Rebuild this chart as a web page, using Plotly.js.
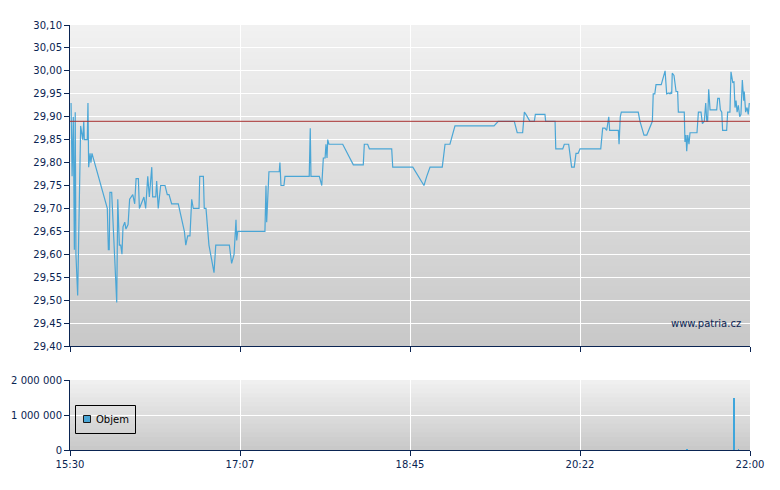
<!DOCTYPE html>
<html>
<head>
<meta charset="utf-8">
<script src="https://cdn.plot.ly/plotly-3.0.1.min.js"></script>
<style>html,body{margin:0;padding:0;background:#fff}#chart{width:780px;height:490px}</style>
</head>
<body>
<div id="chart"></div>
<script>
// ---- data ----
const tickMinutes = [0, 97.5, 195, 292.5, 390];
const tickLabels = ['15:30', '17:07', '18:45', '20:22', '22:00'];
const prevClose = 29.89;

const minutesAfterOpen = [
  0.6, 1.2, 1.9, 2.5, 3.0, 3.4, 4.4, 6.1, 7.3, 7.9, 8.2, 9.9, 10.3, 10.7, 11.5, 12.0, 12.6,
  20.3, 21.4, 22.0, 22.5, 22.9, 23.9, 26.8, 27.4, 28.3, 29.1, 29.8, 30.4, 31.4, 32.1, 33.3,
  34.2, 36.0, 37.1, 37.9, 39.2, 39.8, 42.4, 43.4, 44.6, 45.5, 46.9, 47.4, 49.2, 49.7, 50.6,
  52.0, 54.5, 55.8, 56.8, 58.3, 62.1, 65.6, 66.4, 67.5, 68.8, 69.8, 70.7, 74.0, 74.4, 76.5,
  77.0, 78.0, 79.7, 82.6, 83.6, 91.4, 92.7, 94.1, 95.2, 95.6, 96.2,
  111.8, 112.4, 112.8, 113.4, 114.1, 120.0, 120.4, 121.0, 122.7, 123.3, 137.2, 137.8, 138.2,
  143.0, 144.4, 145.3, 146.3, 146.8, 147.4, 147.8, 148.5, 156.4, 162.5, 168.2, 168.8, 170.7,
  171.7, 184.5, 185.1, 196.6,
  203.0, 204.6, 206.5, 213.5, 215.1, 217.9, 220.8, 243.2, 245.6, 254.8, 256.5, 259.6, 260.6,
  261.5, 263.8, 266.3, 266.9, 272.4, 272.8, 278.2, 278.6, 282.6, 283.5, 286.0, 287.7, 289.2,
  290.2, 291.4, 292.5, 304.4,
  305.5, 306.8, 307.8, 309.0, 309.5, 314.5, 314.9, 315.6, 316.2, 325.9, 326.9, 329.2, 330.8,
  334.0, 334.5, 335.4, 336.1, 339.1, 341.3,
  342.2, 343.5, 344.1, 344.7, 345.1, 345.4, 346.4, 347.6, 348.5, 348.9, 352.3, 352.7, 353.3,
  353.7, 354.3, 355.0, 355.6, 359.6, 360.4, 361.9, 362.7, 363.8, 364.6, 365.2, 365.7, 366.3,
  367.1, 370.9, 371.5, 372.4, 373.0, 373.8, 374.3, 376.6, 377.2, 378.5, 379.1, 380.1, 380.8,
  381.4, 382.0, 382.6, 383.3, 384.1, 384.8, 385.6, 386.4, 386.7, 387.5, 388.3, 389.0, 389.6
];
const prices = [
  29.93, 29.77, 29.90, 29.61, 29.91, 29.60, 29.51, 29.88, 29.85, 29.89, 29.85, 29.85, 29.93, 29.79, 29.82, 29.80, 29.82,
  29.71, 29.70, 29.61, 29.61, 29.735, 29.735, 29.495, 29.72, 29.62, 29.62, 29.60, 29.66, 29.67, 29.655, 29.665,
  29.72, 29.73, 29.71, 29.765, 29.765, 29.70, 29.725, 29.70, 29.77, 29.725, 29.79, 29.725, 29.725, 29.76, 29.70,
  29.75, 29.75, 29.73, 29.73, 29.71, 29.71, 29.65, 29.62, 29.64, 29.64, 29.72, 29.70, 29.70, 29.77, 29.77,
  29.70, 29.70, 29.62, 29.56, 29.62, 29.62, 29.58, 29.60, 29.675, 29.63, 29.65,
  29.65, 29.75, 29.67, 29.73, 29.78, 29.78, 29.80, 29.75, 29.75, 29.77, 29.77, 29.875, 29.77,
  29.77, 29.75, 29.81, 29.81, 29.84, 29.81, 29.85, 29.84, 29.84, 29.795, 29.795, 29.84, 29.84,
  29.83, 29.83, 29.79, 29.79,
  29.75, 29.77, 29.79, 29.79, 29.84, 29.84, 29.88, 29.88, 29.89, 29.89, 29.865, 29.865, 29.91,
  29.905, 29.89, 29.89, 29.905, 29.905, 29.89, 29.89, 29.83, 29.83, 29.84, 29.84, 29.79, 29.79,
  29.82, 29.82, 29.83, 29.83,
  29.875, 29.875, 29.87, 29.90, 29.87, 29.87, 29.84, 29.90, 29.91, 29.91, 29.89, 29.86, 29.86,
  29.89, 29.95, 29.95, 29.97, 29.97, 30.00,
  29.95, 29.952, 29.95, 29.953, 29.95, 29.995, 29.99, 29.955, 29.955, 29.91, 29.91, 29.845, 29.86,
  29.825, 29.86, 29.84, 29.865, 29.865, 29.91, 29.91, 29.885, 29.89, 29.93, 29.89, 29.89, 29.96,
  29.915, 29.915, 29.94, 29.94, 29.915, 29.91, 29.87, 29.87, 29.91, 29.91, 29.998, 29.975, 29.976,
  29.92, 29.935, 29.91, 29.925, 29.90, 29.905, 29.98, 29.935, 29.955, 29.91, 29.92, 29.905, 29.93
];

const volumeMinutes = [354.0, 380.8, 383.3];
const volumes = [25000, 1480000, 35000];
const legendLabel = 'Objem';

// ---- styling ----
const navy = '#0a2452';
const lineBlue = '#4aa6d6';
const fontFamily = 'DejaVu Sans, Verdana, sans-serif';

function grey(t) { // t=0 bottom, t=1 top
  const lo = 200, hi = 241;
  const v = Math.round(lo + (hi - lo) * t);
  return 'rgb(' + v + ',' + v + ',' + v + ')';
}
const shapes = [];
[['x domain', 'y domain', 48], ['x2 domain', 'y2 domain', 16]].forEach(function (r) {
  const N = r[2];
  for (let i = 0; i < N; i++) {
    shapes.push({type: 'rect', xref: r[0], yref: r[1], x0: 0, x1: 1,
      y0: i / N, y1: 1, line: {width: 0},
      fillcolor: grey((i + 0.5) / N), layer: 'below'});
  }
});
shapes.push({type: 'line', xref: 'x domain', yref: 'y', x0: 0, x1: 1,
  y0: prevClose, y1: prevClose, line: {color: '#a83030', width: 1}, layer: 'above'});

// legend box (drawn in paper space)
const H = 425, W = 680; // plot area size in px
function px(x) { return (x - 70) / W; }
function py(y) { return (450 - y) / H; }
shapes.push({type: 'rect', xref: 'paper', yref: 'paper', x0: px(75.5), x1: px(135.5), y0: py(433.5), y1: py(405.5),
  line: {color: '#000000', width: 1}, fillcolor: 'rgba(0,0,0,0)', layer: 'above'});
shapes.push({type: 'rect', xref: 'paper', yref: 'paper', x0: px(83.5), x1: px(90.5), y0: py(422.5), y1: py(415.5),
  line: {color: '#1a1a1a', width: 1}, fillcolor: lineBlue, layer: 'above'});

const axisCommon = {
  showline: true, linecolor: navy, linewidth: 1, ticks: 'outside', ticklen: 5,
  tickcolor: navy, tickwidth: 1, gridcolor: '#ffffff', gridwidth: 1, zeroline: false,
  tickfont: {family: fontFamily, size: 10, color: navy}
};

const traces = [
  {x: minutesAfterOpen, y: prices, type: 'scatter', mode: 'lines',
   line: {color: lineBlue, width: 1.2}, xaxis: 'x', yaxis: 'y', showlegend: false, hoverinfo: 'skip'},
  {x: volumeMinutes, y: volumes, type: 'bar', name: legendLabel, width: 0.9,
   marker: {color: '#3fa6dc', line: {width: 0}}, xaxis: 'x2', yaxis: 'y2', showlegend: false, hoverinfo: 'skip'}
];

const layout = {
  width: 780, height: 490,
  margin: {l: 70, r: 30, t: 25, b: 40, pad: 0},
  paper_bgcolor: '#ffffff', plot_bgcolor: 'rgba(0,0,0,0)',
  separators: ', ',
  font: {family: fontFamily, size: 10, color: navy},
  showlegend: false,
  xaxis: Object.assign({}, axisCommon, {domain: [0, 1], anchor: 'y', range: [0, 390],
    tickmode: 'array', tickvals: tickMinutes, ticktext: tickLabels, showticklabels: false, showgrid: true}),
  yaxis: Object.assign({}, axisCommon, {domain: [0.2447, 1], anchor: 'x', range: [29.40, 30.10],
    tick0: 29.40, dtick: 0.05, tickformat: '.2f', showgrid: true}),
  xaxis2: Object.assign({}, axisCommon, {domain: [0, 1], anchor: 'y2', range: [0, 390], matches: 'x',
    tickmode: 'array', tickvals: tickMinutes, ticktext: tickLabels, showticklabels: true, showgrid: true}),
  yaxis2: Object.assign({}, axisCommon, {domain: [0, 0.1647], anchor: 'x2', range: [0, 2000000],
    tickmode: 'array', tickvals: [0, 1000000, 2000000], tickformat: ',.0f', showgrid: true}),
  shapes: shapes,
  annotations: [
    {text: 'www.patria.cz', xref: 'paper', yref: 'paper', x: px(743), y: py(323),
     xanchor: 'right', yanchor: 'middle', showarrow: false,
     font: {family: fontFamily, size: 10, color: navy}},
    {text: legendLabel, xref: 'paper', yref: 'paper', x: px(94), y: py(419.5),
     xanchor: 'left', yanchor: 'middle', showarrow: false,
     font: {family: fontFamily, size: 10, color: '#000000'}}
  ],
  bargap: 0
};

Plotly.newPlot('chart', traces, layout, {staticPlot: true, displayModeBar: false});
</script>
</body>
</html>
